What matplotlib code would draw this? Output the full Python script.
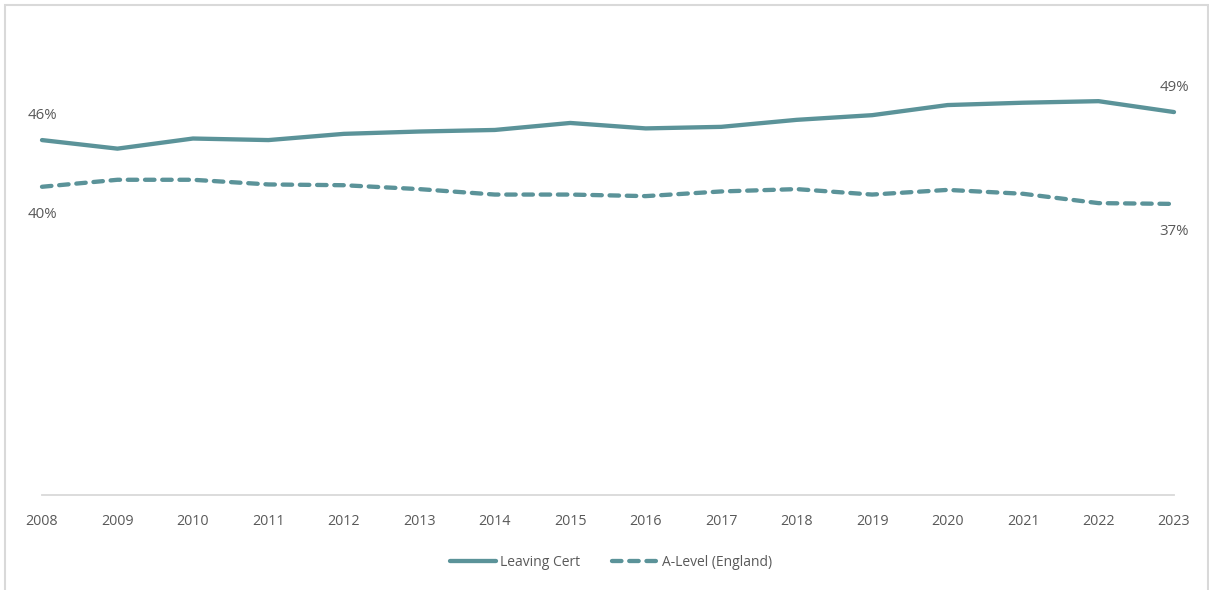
import matplotlib.pyplot as plt
from matplotlib.patches import Rectangle

years = list(range(2008, 2024))
leaving_cert = [45.6, 44.5, 45.8, 45.6, 46.4, 46.7, 46.9, 47.8,
                47.1, 47.3, 48.2, 48.8, 50.1, 50.4, 50.6, 49.2]
a_level = [39.6, 40.5, 40.5, 39.9, 39.8, 39.3, 38.6, 38.6,
           38.4, 39.0, 39.3, 38.6, 39.2, 38.7, 37.5, 37.4]

teal = '#5B9399'
grey_txt = '#595959'

plt.rcParams['font.family'] = ['Open Sans', 'DejaVu Sans']

fig = plt.figure(figsize=(12.09, 5.90), dpi=100)
ax = fig.add_axes([42/1209, 1 - 495/590, (1174 - 42)/1209, (495 - 28)/590])

ax.plot(years, leaving_cert, color=teal, lw=3.1, solid_capstyle='round',
        label='Leaving Cert', clip_on=False)
ax.plot(years, a_level, color=teal, lw=3.1, ls=(0, (2.2, 1.8)), dash_capstyle='round',
        label='A-Level (England)', clip_on=False)

ax.set_xlim(2008, 2023)
ax.set_ylim(0, 60)
ax.set_yticks([])
ax.set_xticks(years)
ax.set_xticklabels([str(y) for y in years], fontsize=10.3, color=grey_txt)
ax.tick_params(axis='x', length=0, pad=14)
for s in ['top', 'right', 'left']:
    ax.spines[s].set_visible(False)
ax.spines['bottom'].set_color('#D9D9D9')
ax.spines['bottom'].set_linewidth(1.3)

# end labels
lab = dict(fontsize=10.8, color=grey_txt, ha='center', va='center')
ax.annotate(f'{round(leaving_cert[0])}%', (years[0], leaving_cert[0]),
            xytext=(0, 18), textcoords='offset points', **lab, annotation_clip=False)
ax.annotate(f'{round(leaving_cert[-1])}%', (years[-1], leaving_cert[-1]),
            xytext=(0, 18), textcoords='offset points', **lab, annotation_clip=False)
ax.annotate(f'{round(a_level[0])}%', (years[0], a_level[0]),
            xytext=(0, -20), textcoords='offset points', **lab, annotation_clip=False)
ax.annotate(f'{round(a_level[-1])}%', (years[-1], a_level[-1]),
            xytext=(0, -20), textcoords='offset points', **lab, annotation_clip=False)

leg = fig.legend(loc='center', bbox_to_anchor=(611/1209, 1 - 562/590), ncol=2,
                 frameon=False, fontsize=10, handlelength=3.3, handletextpad=0.3,
                 columnspacing=2.3)
for t in leg.get_texts():
    t.set_color(grey_txt)

fig.patches.append(Rectangle((5/1209, -0.05), 1203/1209, 1.05 - 5/590,
                             transform=fig.transFigure, fill=False,
                             edgecolor='#D9D9D9', lw=1.5))

fig.savefig('out.png', dpi=100, facecolor='white')
